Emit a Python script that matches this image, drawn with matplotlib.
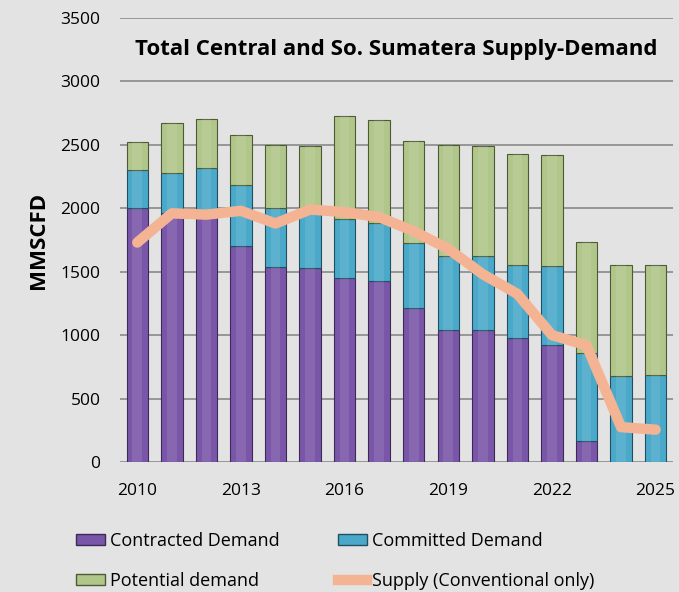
import numpy as np
import matplotlib.pyplot as plt
from matplotlib.patches import Patch
from matplotlib.lines import Line2D

years = list(range(2010, 2026))
contracted = [2000, 1960, 1950, 1700, 1540, 1530, 1450, 1425, 1215, 1040, 1040, 975, 920, 165, 0, 0]
committed = [300, 320, 365, 485, 465, 470, 465, 460, 515, 580, 580, 580, 625, 695, 680, 685]
potential = [220, 390, 390, 395, 490, 490, 810, 810, 800, 880, 870, 875, 875, 875, 875, 870]
supply = [1730, 1960, 1950, 1980, 1880, 1990, 1970, 1930, 1820, 1680, 1480, 1325, 1000, 920, 275, 255]
tick_years = [2010, 2013, 2016, 2019, 2022, 2025]

bg = '#E3E3E3'
c_purple = '#7A56A8'
c_blue = '#4AA9C9'
c_green = '#B0C68A'
c_supply = '#F4B494'

plt.rcParams['font.family'] = ['Open Sans', 'DejaVu Sans']

fig = plt.figure(figsize=(6.79, 5.92), dpi=100, facecolor=bg)
ax = fig.add_axes([0.1767, 0.2196, 0.8143, 0.75])
ax.set_facecolor(bg)

x = np.arange(len(years))
w = 0.62
c = np.array(contracted)
m = np.array(committed)
p = np.array(potential)

ax.bar(x, c, w, color=c_purple, edgecolor='#3e2a5a', linewidth=0.8, zorder=3)
ax.bar(x, m, w, bottom=c, color=c_blue, edgecolor='#1f4f60', linewidth=0.8, zorder=3)
ax.bar(x, p, w, bottom=c + m, color=c_green, edgecolor='#4d5a35', linewidth=0.8, zorder=3)
# soft highlight down the middle of each bar
ax.bar(x, c + m + p, w * 0.45, color='white', alpha=0.10, linewidth=0, zorder=4)

ax.plot(x, supply, color=c_supply, lw=7.5, solid_capstyle='round',
        solid_joinstyle='round', zorder=5)

ax.set_xlim(-0.5, 15.5)
ax.set_ylim(0, 3500)
ax.set_yticks(range(0, 3501, 500))
ax.set_xticks([years.index(y) for y in tick_years])
ax.set_xticklabels([str(y) for y in tick_years])
ax.tick_params(axis='both', length=0, labelsize=12.5)
ax.tick_params(axis='y', pad=14)
ax.tick_params(axis='x', pad=15)
ax.grid(axis='y', color='#8a8a8a', linewidth=1.2, zorder=0)
for s in ax.spines.values():
    s.set_visible(False)

ax.set_ylabel('MMSCFD', fontsize=16, fontweight='bold', labelpad=8)
ax.text(0.5, 0.93, 'Total Central and So. Sumatera Supply-Demand',
        transform=ax.transAxes, ha='center', va='center',
        fontsize=16, fontweight='bold')

h_con = Patch(facecolor=c_purple, edgecolor='#3e2a5a')
h_com = Patch(facecolor=c_blue, edgecolor='#1f4f60')
h_pot = Patch(facecolor=c_green, edgecolor='#4d5a35')
h_sup = Line2D([0], [0], color=c_supply, lw=7.5)
# legend fills column by column
handles = [h_con, h_pot, h_com, h_sup]
labels = ['Contracted Demand', 'Potential demand', 'Committed Demand', 'Supply (Conventional only)']
fig.legend(handles, labels, ncol=2, loc='lower left', bbox_to_anchor=(0.088, -0.024),
           frameon=False, fontsize=13, handlelength=1.6, handleheight=0.6,
           columnspacing=3.2, labelspacing=1.22, handletextpad=0.3)

plt.savefig('out.png', dpi=100, facecolor=bg)
